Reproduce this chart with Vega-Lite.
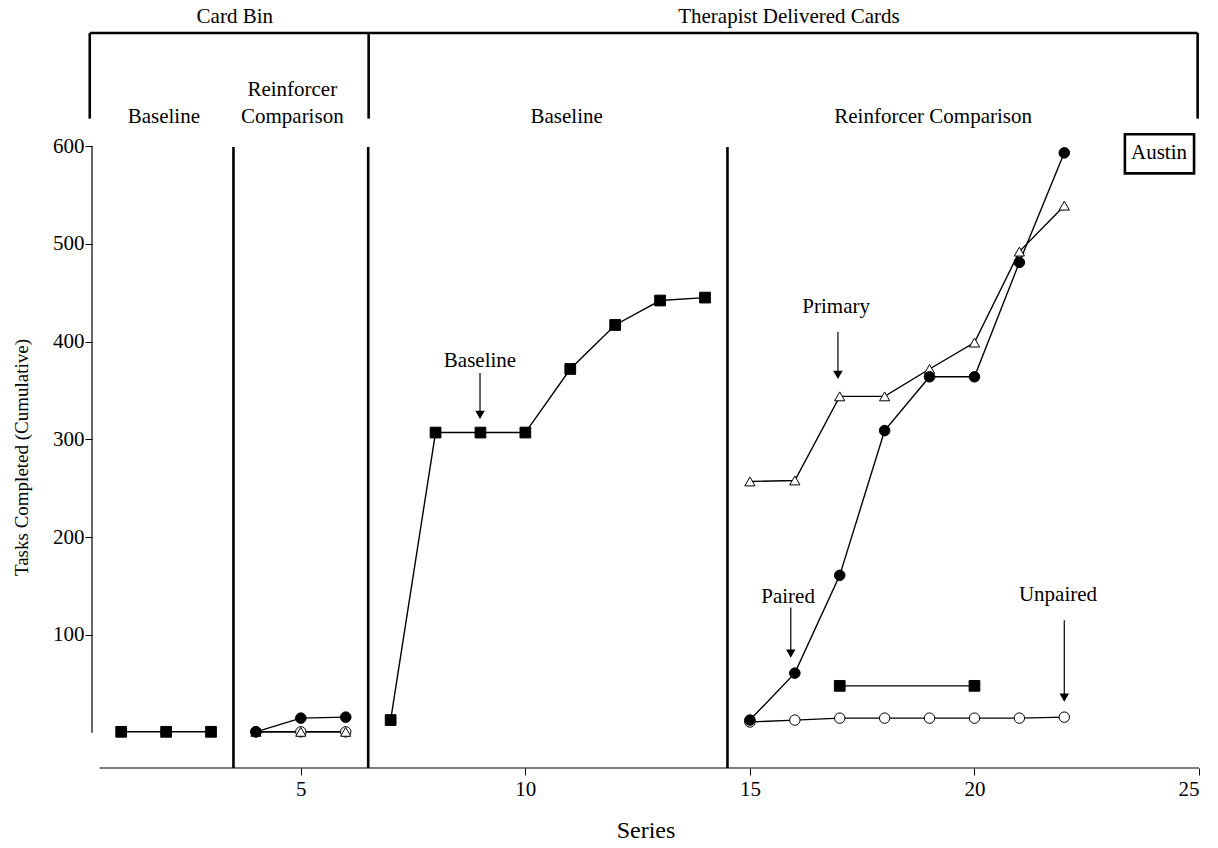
{
  "$schema": "https://vega.github.io/schema/vega-lite/v6.json",
  "autosize": "none",
  "width": 1107,
  "height": 622,
  "padding": {"left": 92, "top": 146, "right": 19, "bottom": 80},
  "background": "white",
  "config": {
    "view": {"stroke": null},
    "font": "Liberation Serif",
    "text": {"font": "Liberation Serif"}
  },
  "datasets": {
    "pts": [
      {"x": 4, "y": 1, "s": "oc", "g": "ocA"},
      {"x": 5, "y": 1, "s": "oc", "g": "ocA"},
      {"x": 6, "y": 1, "s": "oc", "g": "ocA"},
      {"x": 15, "y": 11, "s": "oc", "g": "ocB"},
      {"x": 16, "y": 13, "s": "oc", "g": "ocB"},
      {"x": 17, "y": 15, "s": "oc", "g": "ocB"},
      {"x": 18, "y": 15, "s": "oc", "g": "ocB"},
      {"x": 19, "y": 15, "s": "oc", "g": "ocB"},
      {"x": 20, "y": 15, "s": "oc", "g": "ocB"},
      {"x": 21, "y": 15, "s": "oc", "g": "ocB"},
      {"x": 22, "y": 16, "s": "oc", "g": "ocB"},
      {"x": 4, "y": 1, "s": "tr", "g": "trA"},
      {"x": 5, "y": 1, "s": "tr", "g": "trA"},
      {"x": 6, "y": 1, "s": "tr", "g": "trA"},
      {"x": 15, "y": 257, "s": "tr", "g": "trB"},
      {"x": 16, "y": 258, "s": "tr", "g": "trB"},
      {"x": 17, "y": 344, "s": "tr", "g": "trB"},
      {"x": 18, "y": 344, "s": "tr", "g": "trB"},
      {"x": 19, "y": 372, "s": "tr", "g": "trB"},
      {"x": 20, "y": 399, "s": "tr", "g": "trB"},
      {"x": 21, "y": 492, "s": "tr", "g": "trB"},
      {"x": 22, "y": 539, "s": "tr", "g": "trB"},
      {"x": 4, "y": 1, "s": "fc", "g": "fcA"},
      {"x": 5, "y": 15, "s": "fc", "g": "fcA"},
      {"x": 6, "y": 16, "s": "fc", "g": "fcA"},
      {"x": 15, "y": 13, "s": "fc", "g": "fcB"},
      {"x": 16, "y": 61, "s": "fc", "g": "fcB"},
      {"x": 17, "y": 161, "s": "fc", "g": "fcB"},
      {"x": 18, "y": 309, "s": "fc", "g": "fcB"},
      {"x": 19, "y": 364, "s": "fc", "g": "fcB"},
      {"x": 20, "y": 364, "s": "fc", "g": "fcB"},
      {"x": 21, "y": 481, "s": "fc", "g": "fcB"},
      {"x": 22, "y": 593, "s": "fc", "g": "fcB"},
      {"x": 1, "y": 1, "s": "sq", "g": "sqA"},
      {"x": 2, "y": 1, "s": "sq", "g": "sqA"},
      {"x": 3, "y": 1, "s": "sq", "g": "sqA"},
      {"x": 7, "y": 13, "s": "sq", "g": "sqB"},
      {"x": 8, "y": 307, "s": "sq", "g": "sqB"},
      {"x": 9, "y": 307, "s": "sq", "g": "sqB"},
      {"x": 10, "y": 307, "s": "sq", "g": "sqB"},
      {"x": 11, "y": 372, "s": "sq", "g": "sqB"},
      {"x": 12, "y": 417, "s": "sq", "g": "sqB"},
      {"x": 13, "y": 442, "s": "sq", "g": "sqB"},
      {"x": 14, "y": 445, "s": "sq", "g": "sqB"},
      {"x": 17, "y": 48, "s": "sq", "g": "sqC"},
      {"x": 20, "y": 48, "s": "sq", "g": "sqC"}
    ],
    "thick": [
      {"x": 3.5, "x2": 3.5, "y": -36, "y2": 599},
      {"x": 6.5, "x2": 6.5, "y": -36, "y2": 599},
      {"x": 14.5, "x2": 14.5, "y": -36, "y2": 599},
      {"x": 0.3, "x2": 24.97, "y": 715.5, "y2": 715.5},
      {"x": 0.3, "x2": 0.3, "y": 628, "y2": 715.5},
      {"x": 6.51, "x2": 6.51, "y": 628, "y2": 715.5},
      {"x": 24.97, "x2": 24.97, "y": 628, "y2": 715.5}
    ],
    "thin": [
      {"x": 0.35, "x2": 0.35, "y": 0, "y2": 600},
      {"x": 0.52, "x2": 25, "y": -36, "y2": -36},
      {"x": 8.99, "x2": 8.99, "y": 368, "y2": 328},
      {"x": 16.96, "x2": 16.96, "y": 410, "y2": 369},
      {"x": 15.91, "x2": 15.91, "y": 128, "y2": 84},
      {"x": 22.0, "x2": 22.0, "y": 115, "y2": 39}
    ],
    "heads": [
      {"x": 8.99, "y": 325},
      {"x": 16.96, "y": 366},
      {"x": 15.91, "y": 81},
      {"x": 22.0, "y": 36}
    ],
    "box": [
      {"x": 23.35, "x2": 24.89, "y": 612, "y2": 572}
    ],
    "labels": [
      {"x": 3.53, "y": 732, "t": "Card Bin"},
      {"x": 15.87, "y": 732, "t": "Therapist Delivered Cards"},
      {"x": 1.95, "y": 630, "t": "Baseline"},
      {"x": 4.81, "y": 657, "t": "Reinforcer"},
      {"x": 4.81, "y": 630, "t": "Comparison"},
      {"x": 10.92, "y": 630, "t": "Baseline"},
      {"x": 19.08, "y": 630, "t": "Reinforcer Comparison"},
      {"x": 24.11, "y": 593, "t": "Austin"},
      {"x": 8.99, "y": 380, "t": "Baseline"},
      {"x": 16.92, "y": 435, "t": "Primary"},
      {"x": 15.85, "y": 139, "t": "Paired"},
      {"x": 21.86, "y": 141, "t": "Unpaired"}
    ]
  },
  "encoding": {
    "x": {
      "field": "x",
      "type": "quantitative",
      "scale": {"domain": [0.35, 25], "nice": false, "zero": false},
      "axis": {
        "values": [5, 10, 15, 20, 25],
        "domain": false,
        "grid": false,
        "tickSize": 7,
        "tickColor": "black",
        "tickWidth": 1,
        "labelFont": "Liberation Serif",
        "labelFontSize": 21,
        "labelColor": "black",
        "labelPadding": 3,
        "title": "Series",
        "titleFont": "Liberation Serif",
        "titleFontSize": 24,
        "titleFontWeight": "normal",
        "titleColor": "black",
        "titlePadding": 19
      }
    },
    "y": {
      "field": "y",
      "type": "quantitative",
      "scale": {"domain": [-36, 600], "nice": false, "zero": false},
      "axis": {
        "values": [100, 200, 300, 400, 500, 600],
        "domain": false,
        "grid": false,
        "tickSize": 7,
        "tickColor": "black",
        "tickWidth": 1,
        "labelFont": "Liberation Serif",
        "labelFontSize": 21,
        "labelColor": "black",
        "labelPadding": 1,
        "title": "Tasks Completed (Cumulative)",
        "titleFont": "Liberation Serif",
        "titleFontSize": 19,
        "titleFontWeight": "normal",
        "titleColor": "black",
        "titlePadding": 21
      }
    }
  },
  "layer": [
    {
      "data": {"name": "thick"},
      "mark": {"type": "rule", "color": "black", "strokeWidth": 2.6},
      "encoding": {"x2": {"field": "x2"}, "y2": {"field": "y2"}}
    },
    {
      "data": {"name": "thin"},
      "mark": {"type": "rule", "color": "black", "strokeWidth": 1.2},
      "encoding": {"x2": {"field": "x2"}, "y2": {"field": "y2"}}
    },
    {
      "data": {"name": "heads"},
      "mark": {"type": "point", "shape": "triangle-down", "filled": true, "color": "black", "size": 90, "opacity": 1},
      "encoding": {}
    },
    {
      "data": {"name": "pts"},
      "mark": {"type": "line", "color": "black", "strokeWidth": 1.4},
      "encoding": {"detail": {"field": "g", "type": "nominal"}}
    },
    {
      "data": {"name": "pts"},
      "mark": {"type": "point", "filled": true, "stroke": "black", "strokeWidth": 1, "opacity": 1},
      "encoding": {
        "shape": {"field": "s", "type": "nominal", "scale": {"domain": ["sq", "fc", "oc", "tr"], "range": ["square", "circle", "circle", "triangle-up"]}, "legend": null},
        "fill": {"field": "s", "type": "nominal", "scale": {"domain": ["sq", "fc", "oc", "tr"], "range": ["black", "black", "white", "white"]}, "legend": null},
        "size": {"field": "s", "type": "nominal", "scale": {"domain": ["sq", "fc", "oc", "tr"], "range": [115, 105, 105, 120]}, "legend": null}
      }
    },
    {
      "data": {"name": "box"},
      "mark": {"type": "rect", "fill": "white", "stroke": "black", "strokeWidth": 2.6},
      "encoding": {"x2": {"field": "x2"}, "y2": {"field": "y2"}}
    },
    {
      "data": {"name": "labels"},
      "mark": {"type": "text", "font": "Liberation Serif", "fontSize": 21, "color": "black", "align": "center", "baseline": "middle"},
      "encoding": {"text": {"field": "t", "type": "nominal"}}
    }
  ]
}
